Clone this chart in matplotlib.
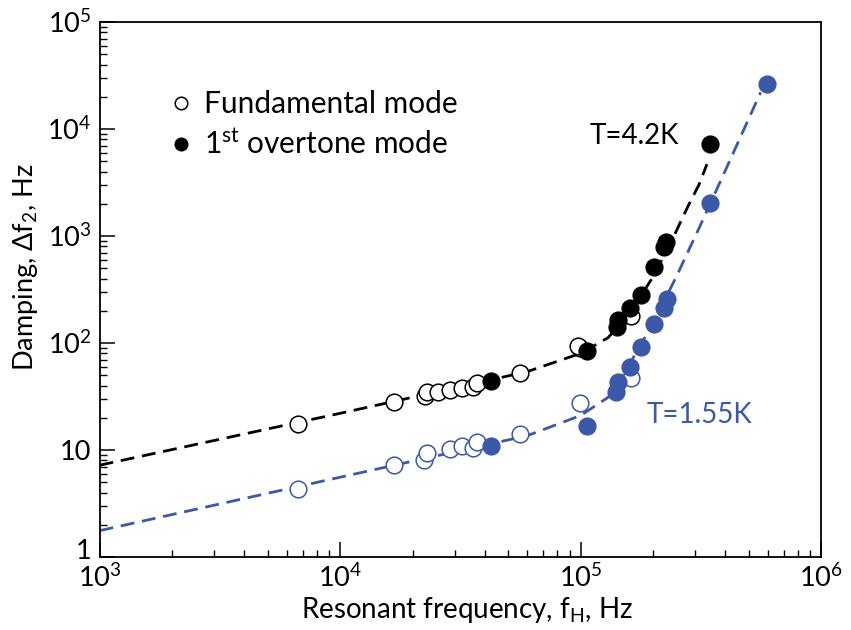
import matplotlib
matplotlib.use("Agg")
import matplotlib.pyplot as plt
from matplotlib.lines import Line2D
import matplotlib.transforms as mtransforms

plt.rcParams['font.family'] = ['Lato', 'DejaVu Sans']
plt.rcParams['mathtext.fontset'] = 'custom'
plt.rcParams['mathtext.rm'] = 'Lato'
plt.rcParams['mathtext.it'] = 'Lato:italic'
plt.rcParams['mathtext.bf'] = 'Lato:bold'

BLUE = '#3c58a8'

# ---- data ----
# T = 4.2 K, fundamental mode (open black)
f42_fund = [6660, 16700, 22500, 22900, 25600, 28600, 32200, 35700, 36900, 55900, 99200, 97500, 161500]
d42_fund = [17.4, 27.9, 32.0, 35.1, 35.1, 36.4, 38.2, 39.0, 42.0, 52.1, 89.2, 93.7, 179]
# T = 4.2 K, 1st overtone (filled black)
f42_ovt = [42200, 106300, 141600, 143000, 160000, 177700, 201800, 222300, 227200, 343900]
d42_ovt = [44.4, 84.7, 142, 164, 211, 281, 510, 789, 885, 7190]
# T = 1.55 K, fundamental mode (open blue)
f155_fund = [6660, 16700, 22400, 22900, 28500, 32200, 35700, 36900, 55900, 99200, 161500]
d155_fund = [4.29, 7.24, 8.06, 9.43, 10.15, 10.9, 10.5, 11.8, 14.1, 27.7, 46.8]
# T = 1.55 K, 1st overtone (filled blue)
f155_ovt = [42200, 106300, 140800, 143000, 160000, 178900, 201800, 222300, 228500, 343900, 594800]
d155_ovt = [10.9, 16.8, 35.1, 43.5, 59.3, 91.2, 150.6, 211, 256, 2047, 26350]

# dashed guide curves (read along the dashes)
fit42_f = [1e3, 1e4, 3e4, 6e4, 1e5, 1.3e5, 1.6e5, 2e5, 2.4e5, 2.8e5, 3.1e5, 3.35e5]
fit42_d = [7.2, 22, 38, 54, 80, 112, 189, 416, 921, 1918, 3000, 4700]
fit155_f = [1e3, 1e4, 3e4, 6e4, 1e5, 1.3e5, 1.6e5, 2e5, 2.5e5, 3.1e5, 4e5, 5e5, 5.6e5]
fit155_d = [1.76, 5.56, 9.6, 13.6, 21, 31, 64, 153, 418, 1173, 4127, 12530, 22000]

xticks = [1e3, 1e4, 1e5, 1e6]
xticklabels = ['$10^{3}$', '$10^{4}$', '$10^{5}$', '$10^{6}$']
yticks = [1, 10, 1e2, 1e3, 1e4, 1e5]
yticklabels = ['1', '10', '$10^{2}$', '$10^{3}$', '$10^{4}$', '$10^{5}$']

fig = plt.figure(figsize=(8.51, 6.30), dpi=100)
ax = fig.add_axes([0.117, 0.116, 0.848, 0.849])

dash = (5, 2.8)
ax.plot(fit42_f, fit42_d, color='black', lw=2.0, dashes=dash, zorder=1)
ax.plot(fit155_f, fit155_d, color=BLUE, lw=2.0, dashes=dash, zorder=1)

ms = 12
ax.plot(f42_fund, d42_fund, 'o', ms=ms, mfc='white', mec='black', mew=1.1, ls='none', zorder=2)
ax.plot(f155_fund, d155_fund, 'o', ms=ms, mfc='white', mec=BLUE, mew=1.1, ls='none', zorder=2)
ax.plot(f42_ovt, d42_ovt, 'o', ms=ms, mfc='black', mec='black', mew=1.1, ls='none', zorder=3)
ax.plot(f155_ovt, d155_ovt, 'o', ms=ms, mfc=BLUE, mec=BLUE, mew=1.1, ls='none', zorder=3)

ax.set_xscale('log')
ax.set_yscale('log')
ax.set_xlim(1e3, 1e6)
ax.set_ylim(1, 1e5)
ax.set_xticks(xticks)
ax.set_xticklabels(xticklabels)
ax.set_yticks(yticks)
ax.set_yticklabels(yticklabels)
ax.tick_params(which='major', direction='in', length=11, width=1.1, labelsize=19.5, pad=6,
               top=False, right=False)
ax.tick_params(axis='x', which='major', pad=5)
ax.tick_params(which='minor', direction='in', length=5, width=1.0, top=False, right=False)
for s in ax.spines.values():
    s.set_linewidth(1.3)

# nudge the "1" label up a little so it clears the 10^3 label, as in the reference
lab1 = ax.get_yticklabels()[0]
lab1.set_transform(lab1.get_transform() + mtransforms.ScaledTranslation(0, 6 / 72, fig.dpi_scale_trans))

ax.set_xlabel('Resonant frequency, f$_{\\mathrm{H}}$, Hz', fontsize=20)
ax.xaxis.set_label_coords(0.509, -0.071)
ax.set_ylabel('Damping, $\\Delta$f$_{2}$, Hz', fontsize=19.5)
ax.yaxis.set_label_coords(-0.083, 0.542)

ax.text(1.09e5, 8600, 'T=4.2K', fontsize=20, color='black', ha='left', va='center')
ax.text(1.88e5, 21.2, 'T=1.55K', fontsize=20, color=BLUE, ha='left', va='center')

handles = [
    Line2D([], [], marker='o', ls='none', ms=9, mfc='white', mec='black', mew=1.1),
    Line2D([], [], marker='o', ls='none', ms=9, mfc='black', mec='black', mew=1.1),
]
ax.legend(handles, ['Fundamental mode', '1$^{\\mathrm{st}}$ overtone mode'],
          loc='upper left', bbox_to_anchor=(0.08, 0.895), frameon=False, fontsize=21.5,
          handlelength=0.8, handletextpad=0.35, labelspacing=0.38, borderaxespad=0)

fig.savefig('out.png', dpi=100)
